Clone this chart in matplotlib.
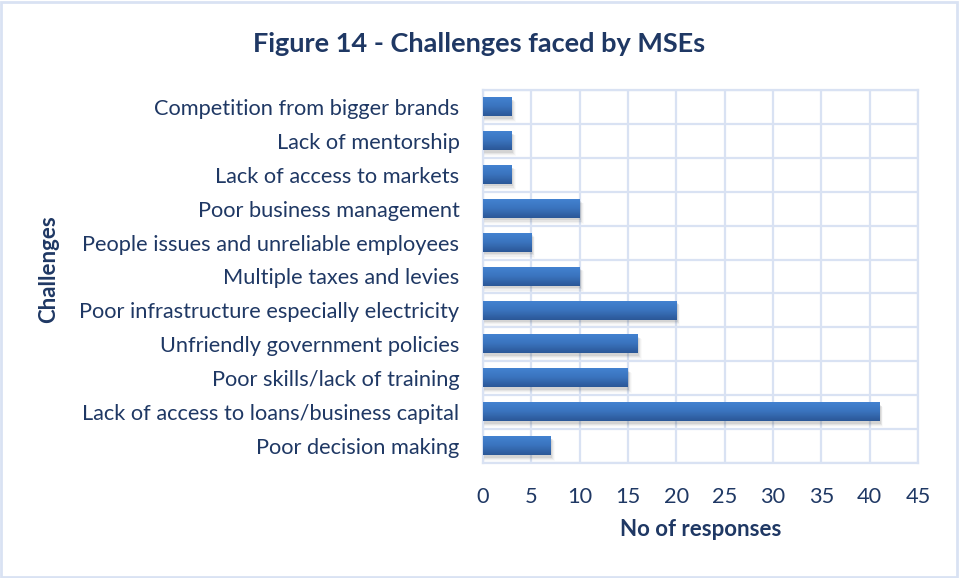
import numpy as np
import matplotlib.pyplot as plt
from matplotlib.patches import Rectangle
from matplotlib.colors import LinearSegmentedColormap

challenges = [
    "Poor decision making",
    "Lack of access to loans/business capital",
    "Poor skills/lack of training",
    "Unfriendly government policies",
    "Poor infrastructure especially electricity",
    "Multiple taxes and levies",
    "People issues and unreliable employees",
    "Poor business management",
    "Lack of access to markets",
    "Lack of mentorship",
    "Competition from bigger brands",
]
responses = [7, 41, 15, 16, 20, 10, 5, 10, 3, 3, 3]

navy = "#1F3864"
grid_col = "#D9E2F3"
plt.rcParams["font.family"] = ["Lato", "DejaVu Sans"]

fig = plt.figure(figsize=(9.59, 5.78), dpi=100)
ax = fig.add_axes([483 / 959, 1 - 463 / 578, 435 / 959, 373 / 578])

# bar shading: lighter on top, darker at the bottom
grad = LinearSegmentedColormap.from_list("bar", ["#2B5797", "#3A73BD", "#4382D0"])
shade = np.linspace(0, 1, 64).reshape(-1, 1)
bar_h = 0.54

y = np.arange(len(challenges))
for yi, val in zip(y, responses):
    # soft drop shadow
    for k, a in enumerate([0.07, 0.05, 0.035, 0.02]):
        d = 0.035 * (k + 1)
        ax.add_patch(Rectangle((0.05, yi - bar_h / 2 - 0.04 - d), val + d * 2.5,
                               bar_h + d * 0.5, color="black", alpha=a, lw=0, zorder=2))
    ax.imshow(shade, cmap=grad, aspect="auto", origin="lower",
              extent=(0, val, yi - bar_h / 2, yi + bar_h / 2), zorder=3)

ax.set_xlim(0, 45)
ax.set_ylim(-0.5, len(challenges) - 0.5)
ax.set_xticks(np.arange(0, 46, 5))
ax.set_yticks(y)
ax.set_yticklabels(challenges)
ax.set_yticks(np.arange(-0.5, len(challenges), 1), minor=True)
ax.grid(True, axis="x", which="major", color=grid_col, lw=1.6, zorder=0)
ax.grid(True, axis="y", which="minor", color=grid_col, lw=1.6, zorder=0)
ax.grid(False, axis="y", which="major")
ax.set_axisbelow(True)
for s in ax.spines.values():
    s.set_color(grid_col)
    s.set_linewidth(1.6)
ax.tick_params(axis="both", which="both", length=0, colors=navy, labelsize=15.7)
ax.tick_params(axis="x", pad=17)
ax.tick_params(axis="y", pad=17)

ax.set_xlabel("No of responses", fontsize=16, fontweight="bold", color=navy, labelpad=9)
ax.set_ylabel("Challenges", fontsize=16, fontweight="bold", color=navy)
ax.yaxis.set_label_coords(-0.975, 0.52)

fig.text(0.5, 1 - 44 / 578, "Figure 14 - Challenges faced by MSEs",
         ha="center", va="center", fontsize=19.5, fontweight="bold", color=navy)

# outer frame around the chart
fig.add_artist(Rectangle((0.001, 0.002), 0.997, 0.995, transform=fig.transFigure,
                         fill=False, edgecolor=grid_col, lw=2))

fig.savefig("out.png", dpi=100)
